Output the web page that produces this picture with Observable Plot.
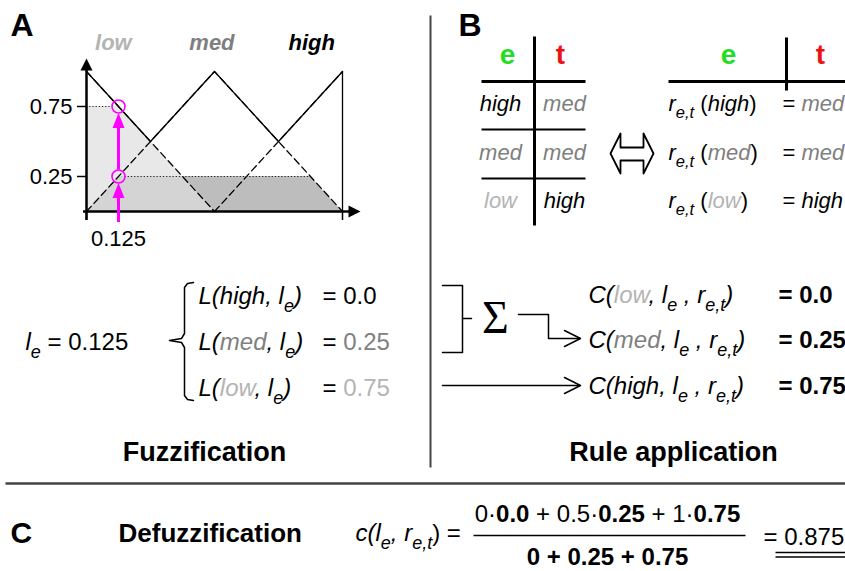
<!DOCTYPE html>
<html><head><meta charset="utf-8">
<script src="https://cdn.jsdelivr.net/npm/d3@7"></script>
<script src="https://cdn.jsdelivr.net/npm/@observablehq/plot@0.6"></script>
<style>
body{margin:0;background:#fff;}
#wrap{position:relative;width:845px;height:571px;overflow:hidden;}
#wrap svg{position:absolute;left:0;top:0;}
</style></head><body><div id="wrap"></div>
<script>
// ===================== DATA =====================
const sets = ["low", "med", "high"];
const setPeaks = [0, 0.5, 1];
const setHalfWidth = 0.5;
const inputValue = 0.125;
const inputLabel = "0.125";
const degrees = [0.75, 0.25, 0.0];      // L(low), L(med), L(high) at the input
const yTicks = [0.25, 0.75];
const ruleE = ["high", "med", "low"];
const ruleT = ["med", "med", "high"];

// ===================== STYLE =====================
const FONT = '"Liberation Sans", Arial, Helvetica, sans-serif';
const SERIF = '"Liberation Serif", "Times New Roman", serif';
const MAGENTA = "#ff00ff";
const nameClass = {low: "g1", med: "g2", high: ""};
const labelColor = {low: "#b4b4b4", med: "#7f7f7f", high: "#000000"};
const areaStyle = {
  low: {fill: "#dedede", fillOpacity: 0.7},
  med: {fill: "#bdbdbd", fillOpacity: 1},
  high: {fill: "#9a9a9a", fillOpacity: 1}
};
const STY = {
  i: {"font-style": "italic"},
  b: {"font-weight": "bold"},
  g1: {fill: "#b4b4b4"},
  g2: {fill: "#808080"},
  gr: {fill: "#22dd22"},
  rd: {fill: "#ee1111"},
  sf: {"font-family": SERIF}
};

// ===================== PANEL A (membership chart) =====================
const CH = {width: 370, height: 250, left: 86, right: 28, top: 71, bottom: 39};
const kx = CH.width - CH.left - CH.right;   // px per unit
const ky = CH.height - CH.top - CH.bottom;
const px = v => v / kx, py = v => v / ky;
const setLabelX = [0.105, 0.49, 0.88];      // label positions (layout)

const mu = (k, x) => Math.max(0, 1 - Math.abs(x - setPeaks[k]) / setHalfWidth);
const clamp = v => Math.min(1, Math.max(0, v));
const uniqSort = a => [...new Set(a)].sort((p, q) => p - q);

const triPts = sets.flatMap((s, k) => {
  const p = setPeaks[k];
  return uniqSort([p - setHalfWidth, p, p + setHalfWidth].map(clamp)).map(x => ({set: s, x, y: mu(k, x)}));
});
const envX = uniqSort([0, 1, ...setPeaks, ...setPeaks.slice(1).map((p, i) => (p + setPeaks[i]) / 2)]);
const envelope = envX.map(x => ({x, y: d3.max(sets, (s, k) => mu(k, x))}));
envelope.push({x: 1, y: 0});

const headSym = (len, half, dir) => ({
  draw(ctx, size) {
    const r = Math.sqrt(size / Math.PI);
    ctx.moveTo(0, 0);
    if (dir === "up") { ctx.lineTo(-half * r, len * r); ctx.lineTo(half * r, len * r); }
    else { ctx.lineTo(-len * r, -half * r); ctx.lineTo(-len * r, half * r); }
    ctx.closePath();
  }
});

const marks = [];
// clipped areas (drawn high -> low so that low is on top)
[...sets.keys()].reverse().forEach(k => {
  const s = sets[k], d = degrees[k], p = setPeaks[k], hw = setHalfWidth;
  const xs = uniqSort([0, 1, p - hw, p - hw * (1 - d), p + hw * (1 - d), p + hw].filter(x => x >= 0 && x <= 1));
  const pts = xs.map(x => ({x, y: Math.min(mu(k, x), d)}));
  marks.push(Plot.areaY(pts, {x: "x", y1: () => 0, y2: "y", ...areaStyle[s]}));
});
marks.push(Plot.line(triPts, {x: "x", y: "y", z: "set", stroke: "#000", strokeWidth: 1.3, strokeDasharray: "7,4"}));
marks.push(Plot.line(envelope, {x: "x", y: "y", stroke: "#000", strokeWidth: 1.3}));

// dotted plateau lines
const rcx = px(6.5), rcy = py(6.5);
const dotted = [];
sets.forEach((s, k) => {
  const d = degrees[k]; if (d <= 0) return;
  const p = setPeaks[k], hw = setHalfWidth;
  const a = Math.max(0, p - hw * (1 - d)), b = Math.min(1, p + hw * (1 - d));
  if (inputValue - rcx > a) dotted.push({y: d, x1: a, x2: inputValue - rcx});
  if (inputValue + rcx < b) dotted.push({y: d, x1: inputValue + rcx, x2: b});
});
marks.push(Plot.ruleY(dotted, {y: "y", x1: "x1", x2: "x2", stroke: "#222", strokeWidth: 1.2, strokeDasharray: "1.2,2"}));

// axes
marks.push(Plot.ruleX([0], {y1: () => -py(9), y2: () => 1 + py(1), stroke: "#000", strokeWidth: 2.5}));
marks.push(Plot.ruleY([0], {x1: () => -px(3), x2: () => 1 + px(7), stroke: "#000", strokeWidth: 2.5}));
marks.push(Plot.ruleX([0, 1], {y1: () => -py(9), y2: () => 0, stroke: "#000", strokeWidth: 1.5}));
marks.push(Plot.ruleY(yTicks, {x1: () => -px(9), x2: () => 0, stroke: "#000", strokeWidth: 1.5}));
marks.push(Plot.dot([0], {x: () => 0, y: () => 1 + py(13), r: 6, symbol: headSym(2, 1, "up"), fill: "#000", stroke: "none"}));
marks.push(Plot.dot([0], {x: () => 1 + px(18), y: () => 0, r: 6, symbol: headSym(2, 1, "right"), fill: "#000", stroke: "none"}));
marks.push(Plot.text(yTicks, {x: () => 0, y: d => d, dx: -14, text: d => d.toFixed(2), textAnchor: "end", fontSize: 22, fill: "#000"}));
marks.push(Plot.text([inputValue], {x: d => d, y: () => 0, dy: 27, text: () => inputLabel, fontSize: 22, fill: "#000"}));

// magenta arrows and circles
const circles = degrees.filter(d => d > 0).sort((a, b) => a - b);
const arrows = circles.map((d, i) => ({from: i === 0 ? -py(11) : circles[i - 1] + rcy, to: d - rcy}));
marks.push(Plot.ruleX(arrows, {x: () => inputValue, y1: "from", y2: d => d.to - py(12), stroke: MAGENTA, strokeWidth: 3}));
marks.push(Plot.dot(arrows, {x: () => inputValue, y: "to", r: 6, symbol: headSym(2.5, 1, "up"), fill: MAGENTA, stroke: "none"}));
marks.push(Plot.dot(circles, {x: () => inputValue, y: d => d, r: 6.5, stroke: MAGENTA, strokeWidth: 1.6, fill: "none"}));

// set labels
sets.forEach((s, k) => {
  marks.push(Plot.text([s], {x: () => setLabelX[k], y: () => 1, dy: -29, text: d => d, fill: labelColor[s],
    fontSize: 22, fontWeight: "bold", fontStyle: "italic"}));
});

const chart = Plot.plot({
  width: CH.width, height: CH.height,
  marginLeft: CH.left, marginRight: CH.right, marginTop: CH.top, marginBottom: CH.bottom,
  x: {domain: [0, 1], axis: null},
  y: {domain: [0, 1], axis: null},
  style: {background: "transparent", fontFamily: FONT, overflow: "visible"},
  marks
});

// ===================== PAGE (text, tables, connectors) =====================
const W = 845, H = 571;
const nm = s => `{i${nameClass[s] ? "," + nameClass[s] : ""}|${s}}`;
const fmtDeg = d => d === 0 ? "0.0" : String(d);
const C = sets.map(s => d3.sum(ruleE.map((e, i) => ruleT[i] === s ? degrees[sets.indexOf(e)] : 0)));
const result = d3.sum(setPeaks.map((p, k) => p * C[k])) / d3.sum(C);

const T = [];
T.push({x: 10, y: 25, t: "{b|A}", fs: 32, a: "start"});
T.push({x: 458, y: 25, t: "{b|B}", fs: 32, a: "start"});
T.push({x: 10, y: 533, t: "{b|C}", fs: 30, a: "start"});
T.push({x: 507, y: 55, t: "{b,gr|e}", fs: 28, a: "middle"}, {x: 560, y: 55, t: "{b,rd|t}", fs: 28, a: "middle"});
T.push({x: 728, y: 55, t: "{b,gr|e}", fs: 28, a: "middle"}, {x: 820, y: 55, t: "{b,rd|t}", fs: 28, a: "middle"});
const rowY = [103, 152, 200];
ruleE.forEach((e, i) => {
  T.push({x: 500, y: rowY[i], t: nm(e), fs: 22, a: "middle"});
  T.push({x: 564, y: rowY[i], t: nm(ruleT[i]), fs: 22, a: "middle"});
  T.push({x: 668, y: rowY[i], t: `{i|r}{s|e,t} (${nm(e)})`, fs: 22, a: "start"});
  T.push({x: 782, y: rowY[i], t: `= ${nm(ruleT[i])}`, fs: 22, a: "start"});
});
T.push({x: 25, y: 342, t: `{i|l}{s|e} = ${inputLabel}`, fs: 24, a: "start"});
const fy = [296, 342, 388];
[...sets].reverse().forEach((s, i) => {
  const k = sets.indexOf(s), c = nameClass[s];
  T.push({x: 198, y: fy[i], t: `{i|L(}${nm(s)}{i|, l}{s|e}{i|)}`, fs: 24, a: "start"});
  T.push({x: 322, y: fy[i], t: "= " + (c ? `{${c}|${fmtDeg(degrees[k])}}` : fmtDeg(degrees[k])), fs: 24, a: "start"});
});
const cy = [295, 340, 386];
sets.forEach((s, k) => {
  T.push({x: 588, y: cy[k], t: `{i|C(}${nm(s)}{i|, l}{s|e}{i| , r}{s|e,t}{i|)}`, fs: 24, a: "start"});
  T.push({x: 778, y: cy[k], t: `{b|= ${fmtDeg(C[k])}}`, fs: 24, a: "start"});
});
T.push({x: 495, y: 318, t: "{sf|Σ}", fs: 46, a: "middle"});
T.push({x: 204, y: 452, t: "{b|Fuzzification}", fs: 27, a: "middle"});
T.push({x: 673, y: 452, t: "{b|Rule application}", fs: 27, a: "middle"});
T.push({x: 118, y: 533, t: "{b|Defuzzification}", fs: 26, a: "start"});
T.push({x: 355, y: 533, t: "{i|c(l}{s|e}{i|, r}{s|e,t}) =", fs: 24, a: "start"});
T.push({x: 607, y: 514, t: setPeaks.map((p, k) => `${p}·{b|${fmtDeg(C[k])}}`).join(" + "), fs: 24, a: "middle"});
T.push({x: 607, y: 557, t: `{b|${C.map(String).join(" + ")}}`, fs: 24, a: "middle"});
T.push({x: 763, y: 537, t: `= ${+result.toFixed(3)}`, fs: 24, a: "start"});

const links = [
  {x1: 534, y1: 36, x2: 534, y2: 225, w: 3},
  {x1: 481, y1: 81, x2: 585, y2: 81, w: 3},
  {x1: 481, y1: 129, x2: 585, y2: 129, w: 2},
  {x1: 481, y1: 178, x2: 585, y2: 178, w: 2},
  {x1: 668, y1: 81, x2: 845, y2: 81, w: 3},
  {x1: 786, y1: 37, x2: 786, y2: 90, w: 3},
  {x1: 473, y1: 535, x2: 745, y2: 535, w: 1.5},
  {x1: 775, y1: 552, x2: 845, y2: 552, w: 1.5},
  {x1: 775, y1: 556.5, x2: 845, y2: 556.5, w: 1.5}
];
const grayLinks = [
  {x1: 430, y1: 15, x2: 430, y2: 467, w: 2},
  {x1: 5, y1: 483, x2: 845, y2: 483, w: 2.5}
];
const shapes = {
  brace: [[193,282],[187,283],[184,287],[184,333],[181,338],[169,340],[181,342],[184,347],[184,395],[187,399],[193,400]],
  bracket: [[442,285],[462,285],[462,352],[442,352]],
  nub: [[462,318],[471,318]],
  conn: [[518,314],[548,314],[548,338],[579,338]],
  head1: [[564,330],[580,338],[564,346]],
  arrow2: [[442,385],[579,385]],
  head2: [[564,377],[580,385],[564,393]]
};
const dbl = [[610,153],[620,133],[620,147],[643,147],[643,133],[653,153],[643,173],[643,160],[620,160],[620,173],[610,153]];
const shapePts = Object.entries(shapes).flatMap(([id, pts]) => pts.map(([x, y]) => ({id, x, y})));
const dblPts = dbl.map(([x, y]) => ({x, y}));

const page = Plot.plot({
  width: W, height: H, margin: 0,
  x: {domain: [0, W], range: [0, W], axis: null},
  y: {domain: [0, H], range: [0, H], axis: null},
  style: {background: "#fff", fontFamily: FONT},
  marks: [
    Plot.link(grayLinks, {x1: "x1", y1: "y1", x2: "x2", y2: "y2", strokeWidth: d => d.w, stroke: "#444"}),
    Plot.link(links, {x1: "x1", y1: "y1", x2: "x2", y2: "y2", strokeWidth: d => d.w, stroke: "#000"}),
    Plot.line(shapePts, {x: "x", y: "y", z: "id", stroke: "#000", strokeWidth: 1.5}),
    Plot.line(dblPts, {x: "x", y: "y", stroke: "#000", strokeWidth: 1.8}),
    Plot.text(T.filter(d => d.a === "start"), {x: "x", y: "y", text: "t", fontSize: d => d.fs, textAnchor: "start", fill: "#000"}),
    Plot.text(T.filter(d => d.a === "middle"), {x: "x", y: "y", text: "t", fontSize: d => d.fs, textAnchor: "middle", fill: "#000"})
  ]
});

const wrap = document.getElementById("wrap");
wrap.appendChild(page);
wrap.appendChild(chart);

// rich text: {cls,cls|text} segments -> tspans
function richify(svg) {
  d3.select(svg).selectAll("text").each(function () {
    const s = this.textContent;
    if (!s.includes("{")) return;
    const base = parseFloat(getComputedStyle(this).fontSize) || 20;
    const re = /\{([a-z0-9,]+)\|([^}]*)\}/g;
    const segs = []; let last = 0, m;
    while ((m = re.exec(s))) {
      if (m.index > last) segs.push({cls: [], t: s.slice(last, m.index)});
      segs.push({cls: m[1].split(","), t: m[2]});
      last = re.lastIndex;
    }
    if (last < s.length) segs.push({cls: [], t: s.slice(last)});
    while (this.firstChild) this.removeChild(this.firstChild);
    let shift = 0;
    for (const sg of segs) {
      const ts = document.createElementNS("http://www.w3.org/2000/svg", "tspan");
      ts.textContent = sg.t;
      const sub = sg.cls.includes("s");
      const target = sub ? 0.33 * base : 0;
      if (target !== shift) { ts.setAttribute("dy", target - shift); shift = target; }
      if (sub) { ts.setAttribute("font-size", 0.75 * base); ts.setAttribute("font-style", "italic"); }
      for (const c of sg.cls) for (const [k, v] of Object.entries(STY[c] || {})) ts.setAttribute(k, v);
      this.appendChild(ts);
    }
  });
}
richify(page);
</script></body></html>
